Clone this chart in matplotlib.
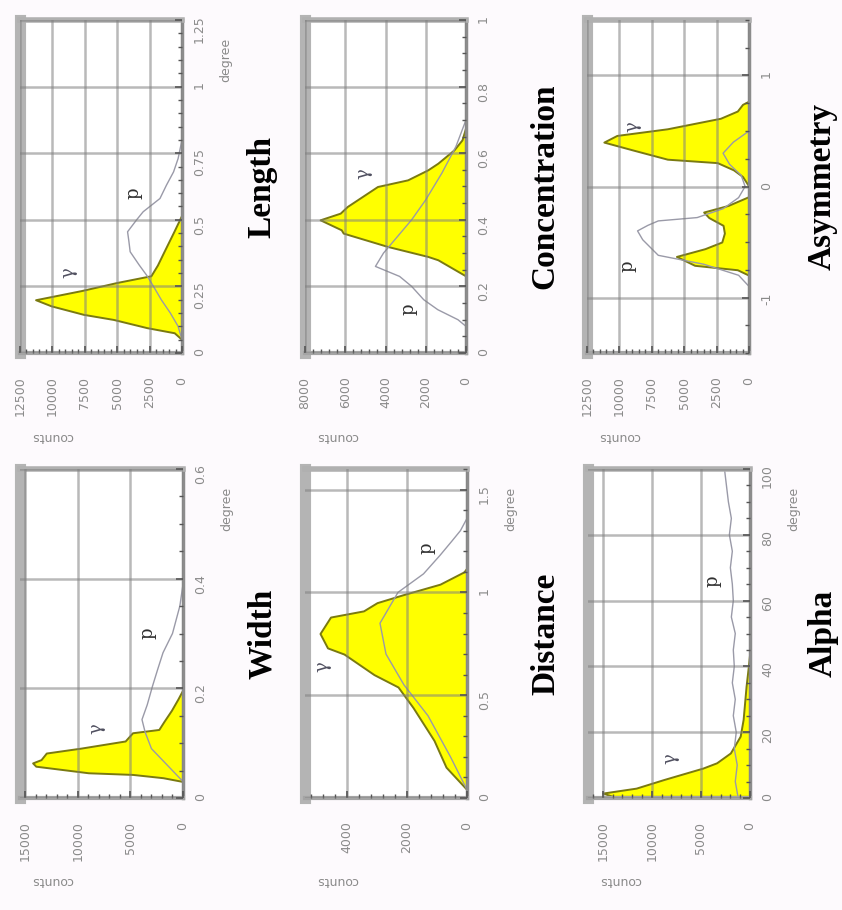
import matplotlib
matplotlib.use("Agg")
import matplotlib.pyplot as plt
from matplotlib.ticker import MultipleLocator, AutoMinorLocator, FuncFormatter

# =========================
# DATA (gamma = yellow histogram, proton = grey line)
# =========================
length_deg = [0.05, 0.076, 0.095, 0.126, 0.145, 0.177, 0.20, 0.234, 0.265, 0.29, 0.33, 0.38, 0.455, 0.52]
length_gamma = [0, 600, 2700, 5300, 7600, 10100, 11300, 7800, 5000, 2400, 1900, 1400, 640, 0]
length_p_deg = [0.05, 0.1, 0.15, 0.2, 0.25, 0.29, 0.33, 0.38, 0.42, 0.455, 0.5, 0.53, 0.58, 0.63, 0.68, 0.73, 0.8]
length_proton = [0, 300, 900, 1600, 2200, 2700, 3300, 4000, 4100, 4200, 3500, 3000, 1700, 1200, 650, 300, 0]

width_deg = [0.03, 0.037, 0.043, 0.046, 0.058, 0.064, 0.07, 0.082, 0.091, 0.104, 0.119, 0.125, 0.14, 0.16, 0.18, 0.198]
width_gamma = [0, 1900, 4800, 9000, 14000, 14300, 13500, 13000, 9700, 5500, 4800, 2300, 1800, 1100, 500, 0]
width_p_deg = [0.03, 0.06, 0.09, 0.12, 0.143, 0.17, 0.204, 0.235, 0.265, 0.3, 0.35, 0.39]
width_proton = [0, 1500, 3000, 3600, 3900, 3400, 2900, 2400, 1900, 1000, 300, 0]

conc_val = [0.231, 0.28, 0.29, 0.32, 0.36, 0.37, 0.40, 0.42, 0.44, 0.50, 0.52, 0.55, 0.57, 0.61, 0.64, 0.68]
conc_gamma = [0, 1400, 1900, 3900, 6100, 6200, 7250, 6250, 5900, 4400, 2900, 1900, 1400, 600, 200, 0]
conc_p_val = [0.08, 0.1, 0.13, 0.16, 0.2, 0.23, 0.26, 0.3, 0.35, 0.4, 0.46, 0.54, 0.62, 0.7]
conc_proton = [0, 400, 1400, 2100, 2700, 3300, 4500, 4100, 3400, 2700, 2000, 1200, 500, 0]

dist_deg = [0.04, 0.15, 0.28, 0.44, 0.54, 0.60, 0.70, 0.73, 0.80, 0.88, 0.91, 0.95, 0.99, 1.04, 1.10, 1.12]
dist_gamma = [0, 700, 1100, 1800, 2300, 3100, 4100, 4650, 4900, 4550, 3450, 3000, 2100, 900, 100, 0]
dist_p_deg = [0.04, 0.2, 0.4, 0.55, 0.7, 0.85, 1.0, 1.09, 1.18, 1.25, 1.3, 1.36]
dist_proton = [0, 550, 1300, 2100, 2700, 2900, 2300, 1450, 900, 500, 220, 0]

asym_val = [-0.80, -0.75, -0.71, -0.63, -0.56, -0.50, -0.42, -0.35, -0.28, -0.23, -0.17, -0.12, -0.09,
            0.0, 0.09, 0.15, 0.215, 0.246, 0.33, 0.40, 0.46, 0.52, 0.615, 0.68, 0.74, 0.77]
asym_gamma = [0, 900, 4200, 5600, 3400, 2100, 1900, 2000, 3100, 3500, 1600, 600, 0,
              0, 500, 1200, 2450, 6300, 9000, 11200, 10200, 6300, 2200, 900, 500, 0]
asym_p_val = [-0.9, -0.8, -0.7, -0.62, -0.55, -0.48, -0.4, -0.35, -0.31, -0.28, -0.2, -0.1,
              0.0, 0.1, 0.2, 0.3, 0.4, 0.5]
asym_proton = [0, 800, 3500, 7000, 7600, 8200, 8600, 7800, 7000, 4000, 2000, 800,
               300, 600, 1500, 2000, 1200, 0]

alpha_deg = [0.5, 1.5, 3, 5.6, 9.1, 10.7, 13.7, 18.8, 23.9, 34, 40, 45]
alpha_gamma = [14000, 15000, 11600, 8800, 4800, 3400, 2000, 1000, 700, 400, 170, 0]
alpha_p_deg = [0, 5, 10, 15, 20, 25, 30, 35, 40, 45, 50, 55, 60, 65, 70, 75, 80, 85, 90, 95, 100]
alpha_proton = [1200, 1500, 1300, 1600, 1400, 1700, 1500, 1800, 1600, 1700, 1500, 1900, 1700,
                1800, 2000, 1800, 2100, 1900, 2200, 2400, 2600]

# =========================
# FIGURE (drawn turned on its side, like the scanned page)
# =========================
W, H = 842, 910
fig = plt.figure(figsize=(W / 100, H / 100), dpi=100)
fig.patch.set_facecolor("#fdfafd")

YELLOW = "#ffff00"
OLIVE = "#7a7a10"
GREY_TXT = "#8a8a8a"


def fmt(v, _):
    return f"{v:g}"


def panel(box, title, gx, gy, px, py, cmax, cstep, dlim, dstep, dminor,
          gpos, ppos, degree=True, title_x=1.49):
    left, top, right, bottom = box
    ax = fig.add_axes([left / W, 1 - bottom / H, (right - left) / W, (bottom - top) / H])

    ax.fill_betweenx(gx, 0, gy, facecolor=YELLOW, edgecolor=OLIVE, linewidth=1.4, zorder=1)
    ax.plot(py, px, color="#9a9aa8", linewidth=1.0, zorder=2)

    ax.set_xlim(cmax, 0)
    ax.set_ylim(*dlim)
    ax.xaxis.set_major_locator(MultipleLocator(cstep))
    ax.xaxis.set_minor_locator(AutoMinorLocator(5))
    ax.yaxis.set_major_locator(MultipleLocator(dstep))
    ax.yaxis.set_minor_locator(AutoMinorLocator(dminor))
    ax.xaxis.set_major_formatter(FuncFormatter(fmt))
    ax.yaxis.set_major_formatter(FuncFormatter(fmt))

    ax.yaxis.tick_right()
    ax.tick_params(axis="x", which="both", direction="in", bottom=True, top=False,
                   colors="#555555", labelcolor=GREY_TXT, labelsize=9, labelrotation=90, pad=17)
    ax.tick_params(axis="y", which="both", direction="in", right=True, left=False,
                   colors="#555555", labelcolor=GREY_TXT, labelsize=9, labelrotation=90, pad=8)
    ax.tick_params(which="major", length=5, width=1.2)
    ax.tick_params(which="minor", length=3, width=1.0)

    ax.grid(True, which="major", color="#808080", alpha=0.55, linewidth=1.8)
    ax.set_axisbelow(False)

    ax.spines["left"].set_linewidth(8)
    ax.spines["left"].set_color("#b4b4b4")
    ax.spines["top"].set_linewidth(4)
    ax.spines["top"].set_color("#b0b0b0")
    ax.spines["bottom"].set_linewidth(3)
    ax.spines["bottom"].set_color("#a4a4a4")
    ax.spines["right"].set_linewidth(2.5)
    ax.spines["right"].set_color("#8c8c8c")

    ax.text(title_x, 0.5, title, transform=ax.transAxes, rotation=90, ha="center", va="center",
            fontsize=24, fontweight="bold", family="Liberation Serif", color="black")
    ax.text(0.2, -0.25, "counts", transform=ax.transAxes, rotation=180, ha="center", va="center",
            fontsize=9, color=GREY_TXT)
    if degree:
        ax.text(1.27, 0.88, "degree", transform=ax.transAxes, rotation=90, ha="center", va="center",
                fontsize=9, color=GREY_TXT)
    ax.text(gpos[0], gpos[1], "γ", transform=ax.transAxes, rotation=90, ha="center", va="center",
            fontsize=13, family="DejaVu Serif", color="#505060")
    ax.text(ppos[0], ppos[1], "p", transform=ax.transAxes, rotation=90, ha="center", va="center",
            fontsize=13, family="DejaVu Serif", color="#303030")
    return ax


# top row
panel((20, 20, 182, 353), "Length", length_deg, length_gamma, length_p_deg, length_proton,
      12500, 2500, (0, 1.25), 0.25, 5, (0.30, 0.24), (0.70, 0.48))
panel((305, 20, 466, 353), "Concentration", conc_val, conc_gamma, conc_p_val, conc_proton,
      8000, 2000, (0, 1.0), 0.2, 4, (0.36, 0.54), (0.64, 0.13), degree=False)
panel((587, 20, 749, 353), "Asymmetry", asym_val, asym_gamma, asym_p_val, asym_proton,
      12500, 2500, (-1.5, 1.5), 1.0, 4, (0.28, 0.68), (0.25, 0.26), degree=False, title_x=1.45)

# bottom row
panel((20, 469, 183, 798), "Width", width_deg, width_gamma, width_p_deg, width_proton,
      15500, 5000, (0, 0.6), 0.2, 4, (0.47, 0.21), (0.78, 0.50))
panel((305, 469, 467, 798), "Distance", dist_deg, dist_gamma, dist_p_deg, dist_proton,
      5400, 2000, (0, 1.6), 0.5, 5, (0.11, 0.40), (0.75, 0.76))
panel((588, 469, 750, 798), "Alpha", alpha_deg, alpha_gamma, alpha_p_deg, alpha_proton,
      16500, 5000, (0, 100), 20, 4, (0.51, 0.12), (0.77, 0.66), title_x=1.45)

fig.savefig("out.png", dpi=100, facecolor=fig.get_facecolor())
